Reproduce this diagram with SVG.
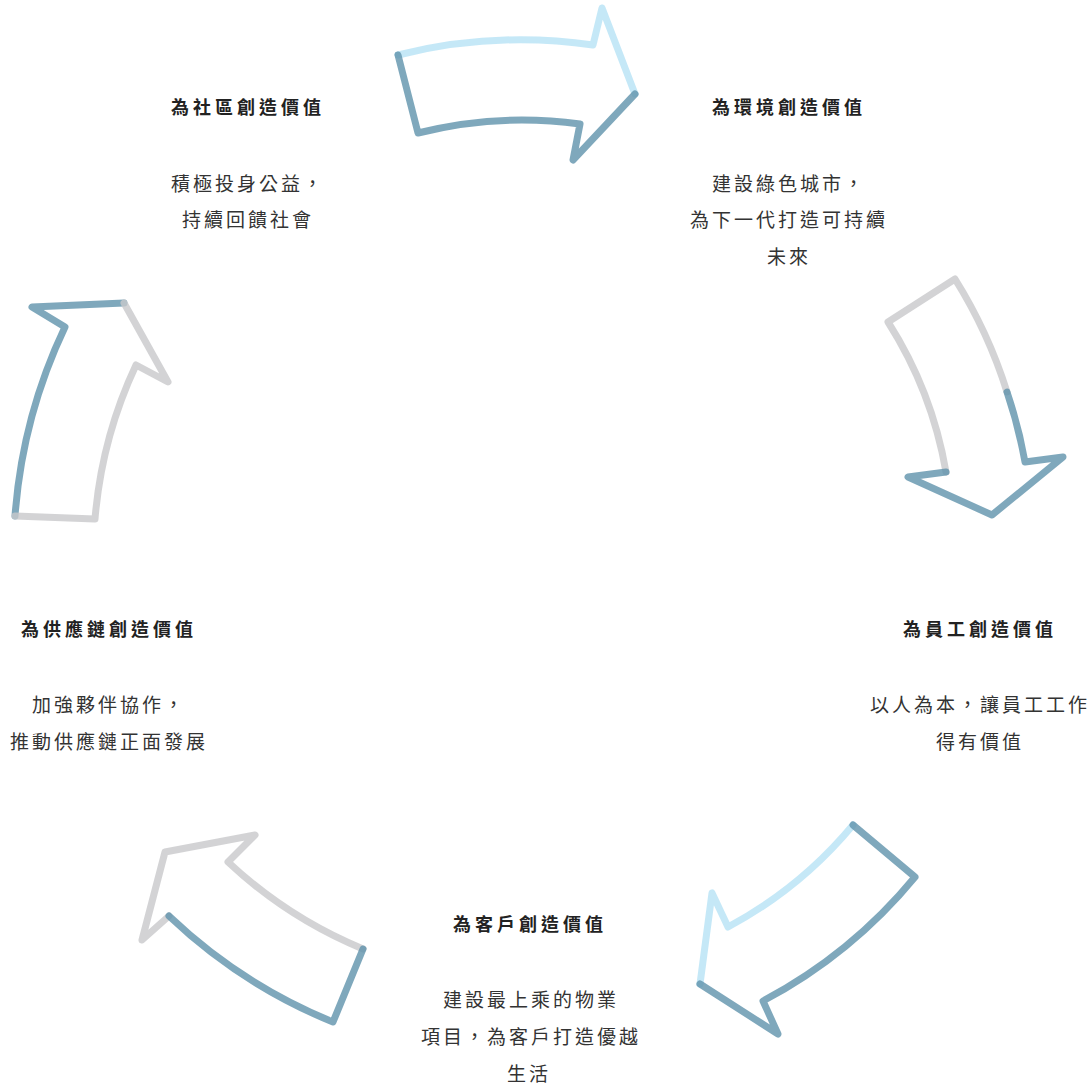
<svg xmlns="http://www.w3.org/2000/svg" width="1091" height="1087" viewBox="0 0 1091 1087">
<style>
.a{fill:none;stroke-width:7;stroke-linecap:round;stroke-linejoin:round;stroke-opacity:0.8}
.d{stroke:#5f92ab}
.l{stroke:#b6e2f5}
.g{stroke:#c8c8cb}
.t{font-family:"Noto Sans CJK TC","Noto Sans CJK SC",sans-serif;font-size:18px;font-weight:700;fill:#222;letter-spacing:4px;text-anchor:middle}
.b{font-family:"Noto Sans CJK TC","Noto Sans CJK SC",sans-serif;font-size:19px;font-weight:400;fill:#333;letter-spacing:3px;text-anchor:middle}
</style>
<rect width="1091" height="1087" fill="#fff"/>
<g id="connectors">
<g id="arrow-top">
<path class="a l" d="M398,55 A505,505 0 0 1 593,45 L602,8 L635,94"/>
<path class="a d" d="M635,94 L573,160 L580,124 A425,425 0 0 0 418,133 L398,55"/>
</g>
<g id="arrow-right">
<path class="a g" d="M946,472 A408,408 0 0 0 888,322 L955,279 A488,488 0 0 1 1007,392"/>
<path class="a d" d="M1007,392 A488,488 0 0 1 1025,462 L1063,457 L992,515 L908,477 L946,472"/>
</g>
<g id="arrow-bottom-right">
<path class="a l" d="M853,825 A420,420 0 0 1 728,927 L712,893 L700,984"/>
<path class="a d" d="M700,984 L778,1034 L763,1001 A500,500 0 0 0 915,877 L853,825"/>
</g>
<g id="arrow-bottom-left">
<path class="a g" d="M363,949 A445,445 0 0 1 228,862 L255,835 L165,852 L142,940 L169,916"/>
<path class="a d" d="M169,916 A525,525 0 0 0 333,1022 L363,949"/>
</g>
<g id="arrow-left">
<path class="a d" d="M15,516 A530,530 0 0 1 65,327 L32,307 L124,303"/>
<path class="a g" d="M124,303 L168,382 L136,365 A449,449 0 0 0 95,519 L15,516"/>
</g>
</g>
<g id="node-community">
<text class="t" x="248" y="114">為社區創造價值</text>
<text class="b" x="248" y="191">積極投身公益，</text>
<text class="b" x="248" y="227">持續回饋社會</text>
</g>
<g id="node-environment">
<text class="t" x="789" y="114">為環境創造價值</text>
<text class="b" x="789" y="191">建設綠色城市，</text>
<text class="b" x="789" y="227">為下一代打造可持續</text>
<text class="b" x="789" y="264">未來</text>
</g>
<g id="node-employee">
<text class="t" x="980" y="636">為員工創造價值</text>
<text class="b" x="980" y="712" letter-spacing="1.5">以人為本，讓員工工作</text>
<text class="b" x="980" y="749">得有價值</text>
</g>
<g id="node-customer">
<text class="t" x="530" y="931">為客戶創造價值</text>
<text class="b" x="531" y="1007">建設最上乘的物業</text>
<text class="b" x="531" y="1044" letter-spacing="1.5">項目，為客戶打造優越</text>
<text class="b" x="529" y="1081">生活</text>
</g>
<g id="node-supply-chain">
<text class="t" x="109" y="636">為供應鏈創造價值</text>
<text class="b" x="109" y="712">加強夥伴協作，</text>
<text class="b" x="109" y="749">推動供應鏈正面發展</text>
</g>
</svg>
